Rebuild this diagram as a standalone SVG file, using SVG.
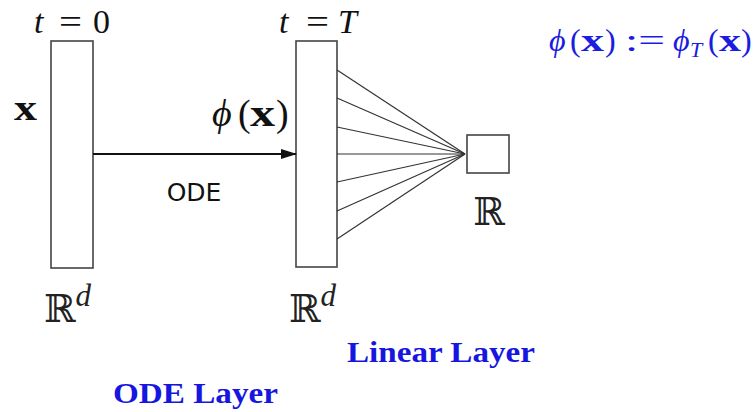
<svg xmlns="http://www.w3.org/2000/svg" width="753" height="412" viewBox="0 0 753 412">
<style>
.box{fill:#fff;stroke:#444;stroke-width:1.6}
.fan line{stroke:#333;stroke-width:1.2}
.m{font-family:"Liberation Serif","DejaVu Serif",serif;fill:#111}
.it{font-style:italic}
.b{font-weight:bold}
.bb{font-family:"DejaVu Serif","Noto Sans",serif;fill:#222}
.blue{fill:#1c1ce0}
.lbl{font-family:"Liberation Serif",serif;font-weight:bold;fill:#1616e0}
.sans{font-family:"DejaVu Sans","Liberation Sans",sans-serif;fill:#111}
</style>
<defs>
<marker id="ah" markerWidth="16" markerHeight="10" refX="15" refY="5" orient="auto" markerUnits="userSpaceOnUse">
<path d="M0,0 L16,5 L0,10 Z" fill="#111"/>
</marker>
</defs>
<rect width="753" height="412" fill="#fff"/>

<g id="input-layer">
<rect class="box" x="51" y="41" width="42" height="227"/>
<text class="m" y="33" font-size="34"><tspan class="it" x="34">t</tspan><tspan x="59" textLength="23" lengthAdjust="spacingAndGlyphs">=</tspan><tspan x="93">0</tspan></text>
<text class="m b" x="14" y="120" font-size="35" textLength="23" lengthAdjust="spacingAndGlyphs">x</text>
<text class="bb" x="44" y="322" font-size="38">ℝ<tspan class="it" font-family="Liberation Serif" font-size="31" dy="-16">d</tspan></text>
</g>

<g id="output-layer">
<rect class="box" x="296" y="41" width="41" height="226"/>
<text class="m" y="33" font-size="34"><tspan class="it" x="279">t</tspan><tspan x="306" textLength="23" lengthAdjust="spacingAndGlyphs">=</tspan><tspan class="it" x="338">T</tspan></text>
<text class="m" y="126" font-size="38"><tspan class="it" x="212">ϕ</tspan><tspan x="238">(</tspan><tspan class="b" x="250" textLength="25" lengthAdjust="spacingAndGlyphs">x</tspan><tspan x="276">)</tspan></text>
<text class="bb" x="289" y="322" font-size="38">ℝ<tspan class="it" font-family="Liberation Serif" font-size="31" dy="-16">d</tspan></text>
</g>

<g id="scalar-output">
<rect class="box" x="467" y="135" width="42" height="38"/>
<text class="bb" x="489" y="225" font-size="38" text-anchor="middle">ℝ</text>
</g>

<g id="connectors">
<line x1="93" y1="154" x2="296" y2="154" stroke="#111" stroke-width="1.8" marker-end="url(#ah)"/>
<text class="sans" x="194" y="201" font-size="25" text-anchor="middle">ODE</text>
<g class="fan">
<line x1="337" y1="70" x2="465" y2="154"/>
<line x1="337" y1="98" x2="465" y2="154"/>
<line x1="337" y1="127" x2="465" y2="154"/>
<line x1="337" y1="154" x2="465" y2="154"/>
<line x1="337" y1="182" x2="465" y2="154"/>
<line x1="337" y1="211" x2="465" y2="154"/>
<line x1="337" y1="239" x2="465" y2="154"/>
</g>
</g>

<g id="annotations">
<text class="m blue" y="51" font-size="32"><tspan class="it" x="549">ϕ</tspan><tspan x="570">(</tspan><tspan class="b" x="581" textLength="23" lengthAdjust="spacingAndGlyphs">x</tspan><tspan x="605">)</tspan><tspan x="625" textLength="40" lengthAdjust="spacingAndGlyphs">:=</tspan><tspan class="it" x="673">ϕ</tspan><tspan class="it" font-size="22" x="690" dy="6">T</tspan><tspan x="708" dy="-6">(</tspan><tspan class="b" x="719" textLength="22" lengthAdjust="spacingAndGlyphs">x</tspan><tspan x="741">)</tspan></text>
<text class="lbl" x="347" y="362" font-size="29" textLength="188" lengthAdjust="spacingAndGlyphs">Linear Layer</text>
<text class="lbl" x="113" y="403" font-size="29" textLength="165" lengthAdjust="spacingAndGlyphs">ODE Layer</text>
</g>
</svg>
